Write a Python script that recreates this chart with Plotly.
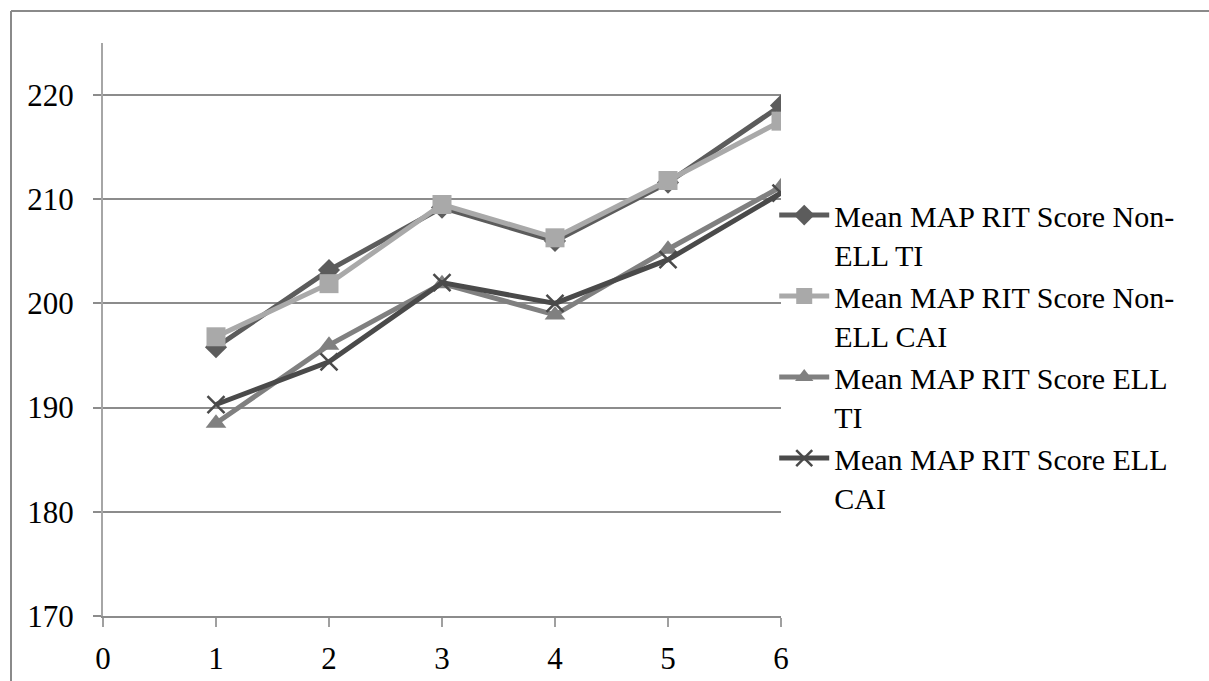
import plotly.graph_objects as go

# Grade levels and mean MAP RIT scores per group
grades = [1, 2, 3, 4, 5, 6]
non_ell_ti = [195.8, 203.2, 209.2, 206.0, 211.6, 219.0]
non_ell_cai = [196.8, 201.9, 209.5, 206.3, 211.8, 217.5]
ell_ti = [188.5, 196.0, 201.9, 198.9, 205.2, 211.2]
ell_cai = [190.3, 194.4, 202.0, 200.0, 204.2, 210.6]

series_names = [
    "Mean MAP RIT Score Non-<br>ELL TI",
    "Mean MAP RIT Score Non-<br>ELL CAI",
    "Mean MAP RIT Score ELL<br>TI",
    "Mean MAP RIT Score ELL<br>CAI",
]
series_values = [non_ell_ti, non_ell_cai, ell_ti, ell_cai]
series_colors = ["#5c5c5c", "#a9a9a9", "#808080", "#4a4a4a"]
series_symbols = ["diamond", "square", "triangle-up", "x-thin"]
marker_sizes = [17, 19, 18, 17]

x_ticks = [0, 1, 2, 3, 4, 5, 6]
y_ticks = [170, 180, 190, 200, 210, 220]

FONT = "Liberation Serif, Times New Roman, serif"

fig = go.Figure()
for name, vals, col, sym, ms in zip(series_names, series_values, series_colors,
                                    series_symbols, marker_sizes):
    marker = dict(symbol=sym, size=ms, color=col)
    if sym == "x-thin":
        marker["line"] = dict(color=col, width=2.5)
    fig.add_trace(go.Scatter(
        x=grades, y=vals, name=name, mode="lines+markers",
        line=dict(color=col, width=5), marker=marker,
    ))

# Outer frame (top and left edges visible)
fig.add_shape(type="line", xref="paper", yref="paper",
              x0=(11 - 103) / 678, x1=1.7, y0=(616 - 11) / 573, y1=(616 - 11) / 573,
              line=dict(color="#8a8a8a", width=2))
fig.add_shape(type="line", xref="paper", yref="paper",
              x0=(11 - 103) / 678, x1=(11 - 103) / 678, y0=(616 - 11) / 573, y1=-0.2,
              line=dict(color="#8a8a8a", width=2))

fig.update_layout(
    width=1209, height=681,
    margin=dict(l=103, r=428, t=43, b=65, autoexpand=False),
    paper_bgcolor="white", plot_bgcolor="white",
    font=dict(family=FONT, size=31, color="black"),
    showlegend=True,
    legend=dict(x=0.99, y=0.745, xanchor="left", yanchor="top",
                font=dict(family=FONT, size=30, color="black"),
                bgcolor="rgba(0,0,0,0)", tracegroupgap=0, itemwidth=50,
                valign="top"),
    xaxis=dict(range=[0, 6], tickvals=x_ticks, showgrid=False, zeroline=False,
               showline=True, linecolor="#8c8c8c", linewidth=2,
               ticks="outside", ticklen=9, tickcolor="#a0a0a0", tickwidth=2,
               ticklabelstandoff=5, automargin=False),
    yaxis=dict(range=[170, 225], tickvals=y_ticks, showgrid=True,
               gridcolor="#8c8c8c", gridwidth=2, zeroline=False,
               showline=True, linecolor="#a6a6a6", linewidth=2,
               ticks="outside", ticklen=8, tickcolor="#8c8c8c", tickwidth=2,
               ticklabelstandoff=13, automargin=False),
)

fig.write_html("out.html")
